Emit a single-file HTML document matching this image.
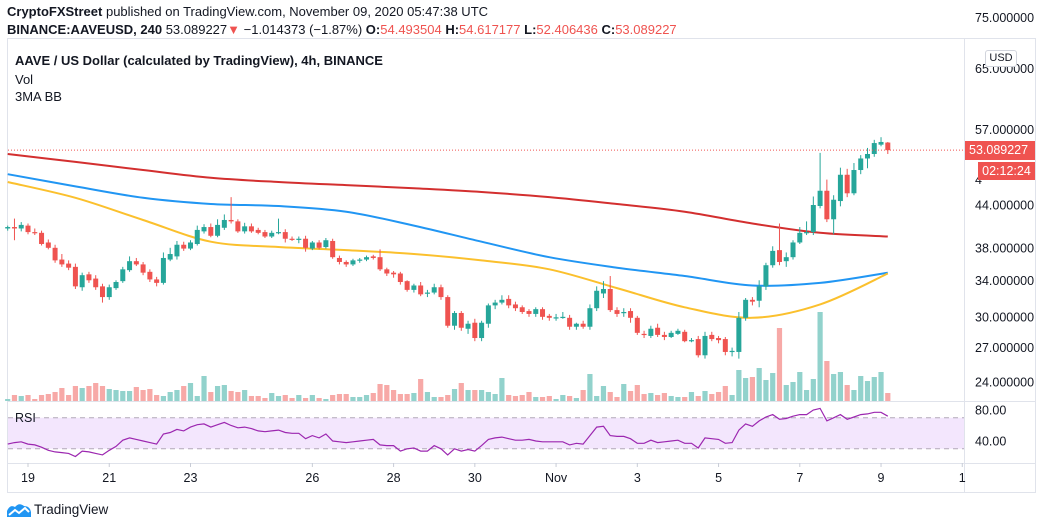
<!DOCTYPE html>
<html><head><meta charset="utf-8">
<style>
body{margin:0;width:1044px;height:529px;background:#fff;font-family:"Liberation Sans",sans-serif;overflow:hidden;position:relative}
.t{position:absolute;white-space:nowrap;color:#131722}
</style></head><body>
<div class="t" style="left:7px;top:4px;font-size:13px"><b>CryptoFXStreet</b> published on TradingView.com, November 09, 2020 05:47:38 UTC</div>
<div class="t" style="left:7px;top:22px;font-size:13px"><b>BINANCE:AAVEUSD, 240</b> 53.089227<span style="color:#ef5350">▼</span> −1.014373 (−1.87%) <b>O:</b><span style="color:#ef5350">54.493504</span> <b>H:</b><span style="color:#ef5350">54.617177</span> <b>L:</b><span style="color:#ef5350">52.406436</span> <b>C:</b><span style="color:#ef5350">53.089227</span></div>
<svg id="c" width="1044" height="529" style="position:absolute;left:0;top:0"></svg>
<script>
const opens=[40.6,40.8,40.6,41.0,40.1,40.0,38.7,38.0,36.5,36.0,35.6,33.2,34.7,34.2,33.3,32.1,33.1,33.9,35.2,36.3,35.9,35.0,34.1,33.7,36.5,36.9,38.4,37.9,38.5,40.2,40.8,39.6,40.7,41.8,41.6,40.2,40.9,40.4,40.1,39.5,40.0,40.1,39.2,39.1,39.2,37.9,38.7,38.1,38.9,
36.7,36.2,35.9,36.4,36.5,36.9,36.8,35.3,34.9,34.8,33.9,32.9,33.4,32.6,32.6,33.2,32.1,29.1,30.4,28.8,29.4,27.9,29.3,31.2,31.5,31.9,31.3,31.0,30.6,30.3,30.8,30.1,29.9,30.0,29.9,29.0,29.3,29.0,30.9,32.5,33.0,30.7,30.4,30.6,29.9,28.3,28.1,28.9,28.2,28.0,28.3,28.5,27.7,27.8,26.3,28.2,27.9,27.8,26.7,26.6,29.9,31.8,31.7,33.3,35.8,37.7,36.3,36.8,38.7,40.0,40.1,43.85,46.2,41.9,44.6,48.8,45.8,49.6,51.6,52.4,54.1,54.49];
const closes=[40.8,40.6,41.1,40.1,40.0,38.5,38.0,36.4,35.9,35.5,33.3,34.6,34.0,33.2,32.1,33.2,33.8,35.3,36.3,35.9,34.9,34.1,33.7,36.7,37.2,38.4,37.9,38.7,40.4,40.8,39.6,41.1,41.8,41.6,40.2,40.9,40.2,40.0,39.5,40.0,40.1,39.2,39.1,39.2,38.0,38.7,38.0,39.0,36.8,
36.2,35.9,36.4,36.5,36.8,36.7,35.3,34.8,34.7,33.8,32.9,33.4,32.4,32.6,33.2,32.1,29.1,30.4,28.9,29.3,27.9,29.4,31.2,31.5,31.8,31.2,30.9,30.5,30.3,30.8,30.0,29.9,29.95,30.0,29.0,29.3,29.0,30.9,32.8,33.0,30.7,30.3,30.5,29.9,28.4,28.2,28.8,28.2,28.0,28.4,28.6,27.6,27.7,26.3,28.1,27.8,27.7,26.6,26.7,29.9,31.8,31.6,33.3,35.8,37.6,36.2,36.8,38.7,40.0,40.1,44.0,46.2,41.9,44.8,48.8,45.8,49.6,51.6,52.4,54.4,54.6,53.09];
const highs=[41.0,42.0,41.5,41.3,40.6,40.3,39.1,38.4,37.2,36.4,36.0,34.9,35.0,34.6,33.6,33.5,34.0,35.6,36.9,36.7,36.2,35.3,34.4,37.4,38.0,38.9,38.8,39.0,41.0,41.2,41.3,41.9,42.6,45.2,41.9,41.4,41.3,40.7,40.4,40.3,42.0,40.5,39.5,39.5,39.6,38.9,39.0,39.3,39.2,
37.0,36.4,36.6,36.7,37.0,37.1,37.8,35.5,35.1,35.0,34.0,33.6,33.8,32.9,33.6,33.5,32.3,30.6,30.6,29.6,29.8,29.6,31.4,31.8,32.3,32.3,31.6,31.2,30.8,31.0,31.0,30.3,30.3,30.5,30.2,29.4,29.6,31.3,33.3,33.9,34.5,31.0,30.9,30.9,30.1,28.6,29.1,29.3,28.5,28.6,28.8,28.7,27.9,28.1,28.5,28.5,28.1,28.0,27.0,30.5,32.0,32.1,34.0,36.1,38.2,41.3,37.4,39.0,40.8,41.6,45.3,52.6,48.0,45.5,50.0,49.8,50.8,52.2,53.5,55.0,55.5,54.6];
const lows=[40.3,39.0,40.2,39.8,39.7,38.3,37.8,36.1,35.6,35.2,33.0,32.8,33.7,32.9,31.5,31.8,32.9,33.7,35.0,35.7,34.6,33.8,33.3,33.5,36.3,36.5,37.6,37.7,38.3,39.9,39.4,39.4,40.4,41.3,40.0,39.9,40.0,39.8,39.3,39.3,39.8,38.7,38.9,38.6,37.5,37.7,37.8,37.9,36.6,
35.9,35.6,35.7,36.1,36.3,36.5,35.1,34.5,34.3,33.5,32.7,32.6,32.2,32.1,32.4,31.8,28.9,28.7,28.6,28.3,27.6,27.6,28.9,30.8,31.3,30.9,30.6,30.3,30.0,30.0,29.7,29.6,29.6,29.8,28.7,28.7,28.8,28.7,30.6,32.0,30.5,30.0,30.0,29.4,28.2,27.9,27.9,28.0,27.7,27.9,28.2,27.5,27.5,26.1,26.0,27.6,27.4,26.3,26.2,26.0,29.6,31.2,31.0,32.9,35.5,35.8,35.6,36.5,38.5,39.7,39.7,43.5,41.5,39.8,43.8,45.2,45.5,48.9,49.9,51.9,53.8,52.4];
const vols=[2,6,5,6,2,6,7,9,13,6,15,13,15,18,15,12,11,10,10,14,11,12,6,5,9,11,15,18,5,25,9,15,16,10,9,11,5,5,3,8,5,6,3,6,3,6,3,2,6,7,7,4,4,6,8,17,16,11,7,7,8,22,9,4,4,6,12,18,11,11,11,9,7,23,6,5,6,9,4,4,5,2,6,5,3,11,27,5,15,9,4,17,10,16,7,8,6,8,5,4,4,9,5,10,7,9,15,6,31,23,24,33,21,28,73,16,19,29,11,22,89,40,27,29,16,11,25,20,24,29,8];
const rsi=[36,38,39,36,35,32,28,26,25,24,20,27,26,24,22,28,33,41,44,42,40,38,36,49,51,55,53,58,61,62,58,61,64,60,57,58,56,53,52,53,54,51,50,50,43,47,44,49,40,39,38,39,40,41,42,35,34,34,27,30,31,27,27,34,30,22,30,27,29,27,34,42,44,45,43,41,41,42,40,39,39,39,39,35,37,36,47,58,59,47,46,46,43,37,37,41,38,39,40,41,37,37,31,44,43,42,37,38,54,62,59,66,71,74,68,69,72,74,74,80,82,66,70,74,68,71,74,75,77,77,72];
const maIdx=[0,10,20,30,40,50,60,70,80,90,100,110,120,130];
const ma200=[52.4,51.0,49.6,48.3,47.6,47.1,46.6,46.0,45.2,44.15,43.0,41.3,40.0,39.5];
const ma100=[48.9,46.9,45.1,44.15,43.85,43.0,41.0,38.8,36.8,35.5,34.5,33.4,33.7,34.9];
const ma50=[47.6,45.1,41.8,38.8,38.1,37.7,37.2,36.4,35.3,33.1,31.0,29.9,31.3,34.8];
const priceTicks=[57,44,38,34,30,27,24];
const rsiTicks=[80,40];
const dateLabels=["19","21","23","26","28","30","Nov","3","5","7","9","1"];
const dateIdx=[3,15,27,45,57,69,81,93,105,117,129,141];
const last=53.089227;

const S='http://www.w3.org/2000/svg';
const svg=document.getElementById('c');
function el(t,a,p){const e=document.createElementNS(S,t);for(const k in a)e.setAttribute(k,a[k]);(p||svg).appendChild(e);return e;}
const X=i=>7.7+i*6.77;
const Y=p=>205-292*Math.log(p/44);
const VY=v=>401-v*1.0;
const RY=r=>410+(80-r)*0.775;
const G='#26a69a',R='#ef5350';

let f=el('rect',{x:7.5,y:38.5,width:1028,height:454,fill:'none',stroke:'#e0e3eb'});


el('line',{x1:964.5,y1:38,x2:964.5,y2:492,stroke:'#e0e3eb'});
el('line',{x1:7,y1:401.5,x2:1036,y2:401.5,stroke:'#e0e3eb'});
el('line',{x1:7,y1:463.5,x2:1036,y2:463.5,stroke:'#e0e3eb'});

let band=el('rect',{x:8,y:RY(70),width:956,height:RY(30)-RY(70),fill:'#f3e6fd'});


[70,30].forEach(v=>el('line',{x1:8,x2:964,y1:RY(v),y2:RY(v),stroke:'#b2a8b8','stroke-dasharray':'5,4'}));

vols.forEach((v,i)=>{const up=closes[i]>=opens[i];
 const r=el('rect',{x:X(i)-2.6,y:VY(v),width:5.2,height:401-VY(v),fill:up?'#92d2cc':'#f7a9a7'});
 
 });

function maPath(arr,col,name){
 const pts=arr.map((v,k)=>[X(maIdx[k]),Y(v)]);
 let d='M'+pts[0][0].toFixed(1)+','+pts[0][1].toFixed(1);
 for(let k=0;k<pts.length-1;k++){
  const p0=pts[Math.max(0,k-1)],p1=pts[k],p2=pts[k+1],p3=pts[Math.min(pts.length-1,k+2)];
  const c1x=p1[0]+(p2[0]-p0[0])/6,c1y=p1[1]+(p2[1]-p0[1])/6;
  const c2x=p2[0]-(p3[0]-p1[0])/6,c2y=p2[1]-(p3[1]-p1[1])/6;
  d+='C'+c1x.toFixed(1)+','+c1y.toFixed(1)+' '+c2x.toFixed(1)+','+c2y.toFixed(1)+' '+p2[0].toFixed(1)+','+p2[1].toFixed(1);
 }
 const p=el('path',{d:d,fill:'none',stroke:col,'stroke-width':2,'stroke-linejoin':'round'});
 
 }
maPath(ma200,'#d32f2f','ma-200-line');
maPath(ma100,'#2196f3','ma-100-line');
maPath(ma50,'#fbc02d','ma-50-line');

opens.forEach((o,i)=>{const c=closes[i],up=c>=o,col=up?G:R,x=X(i);
 const g=el('g',{});
 
 
 el('line',{x1:x,x2:x,y1:Y(highs[i]),y2:Y(lows[i]),stroke:col,'stroke-width':1},g);
 const t=Math.min(Y(o),Y(c)),h=Math.max(1.2,Math.abs(Y(o)-Y(c)));
 el('rect',{x:x-2.5,y:t,width:5,height:h,fill:col},g);});

let lp=el('line',{x1:8,x2:964,y1:Y(last),y2:Y(last),stroke:R,'stroke-dasharray':'1,2'});



let d='';rsi.forEach((r,i)=>{d+=(i?'L':'M')+X(i).toFixed(1)+','+RY(r).toFixed(1);});
let rl=el('path',{d:d,fill:'none',stroke:'#9c27b0','stroke-width':1.2});



function txt(x,y,s,name,attrs){const t=el('text',Object.assign({x:x,y:y,'font-size':12.5,fill:'#131722','font-family':'Liberation Sans, sans-serif'},attrs||{}));t.textContent=s;
 
 return t;}
txt(975,22,'75.000000','price-tick');
txt(975,73,'65.000000','price-tick');
priceTicks.forEach(p=>txt(975,Y(p)+4.5,p.toFixed(6),'price-tick'));
txt(975,Y(48)+4.5,'4','price-tick');
rsiTicks.forEach(r=>txt(975,RY(r)+4.5,r.toFixed(2),'rsi-tick'));
dateLabels.forEach((s,k)=>{const x=X(dateIdx[k]);
 el('line',{x1:x,x2:x,y1:463,y2:467,stroke:'#c8ccd6'});
 txt(x,482,s,'date-tick',{'text-anchor':'middle'});});
txt(15,422,'RSI','rsi-label');
</script>
<div style="position:absolute;left:985px;top:50px;width:30px;height:15px;border:1px solid #d1d4dc;border-radius:3px;font-size:11px;text-align:center;line-height:15px;color:#131722;background:#fff">USD</div>
<div style="position:absolute;left:965px;top:141px;width:70px;height:19px;background:#ef5350;color:#fff;font-size:12.5px;line-height:19px;padding-left:4px;box-sizing:border-box">53.089227</div>
<div style="position:absolute;left:978px;top:162px;width:57px;height:18px;background:#ef5350;color:#fff;font-size:12.5px;line-height:18px;text-align:center">02:12:24</div>
<div class="t" style="left:15px;top:53px;font-size:13px;font-weight:bold">AAVE / US Dollar (calculated by TradingView), 4h, BINANCE</div>
<div class="t" style="left:15px;top:72px;font-size:13px">Vol</div>
<div class="t" style="left:15px;top:89px;font-size:13px">3MA BB</div>
<svg style="position:absolute;left:6px;top:502px" width="26" height="16" viewBox="0 0 26 16"><path d="M1 15 L1 9 Q4 2 9 5 Q13 0 18 4 Q24 4 25 10 L25 15 Z" fill="#2196f3"/><path d="M3 13 L9 8 L13 11 L19 6 L23 10" stroke="#fff" stroke-width="2" fill="none"/></svg>
<div class="t" style="left:34px;top:502px;font-size:13.5px">TradingView</div>
</body></html>
